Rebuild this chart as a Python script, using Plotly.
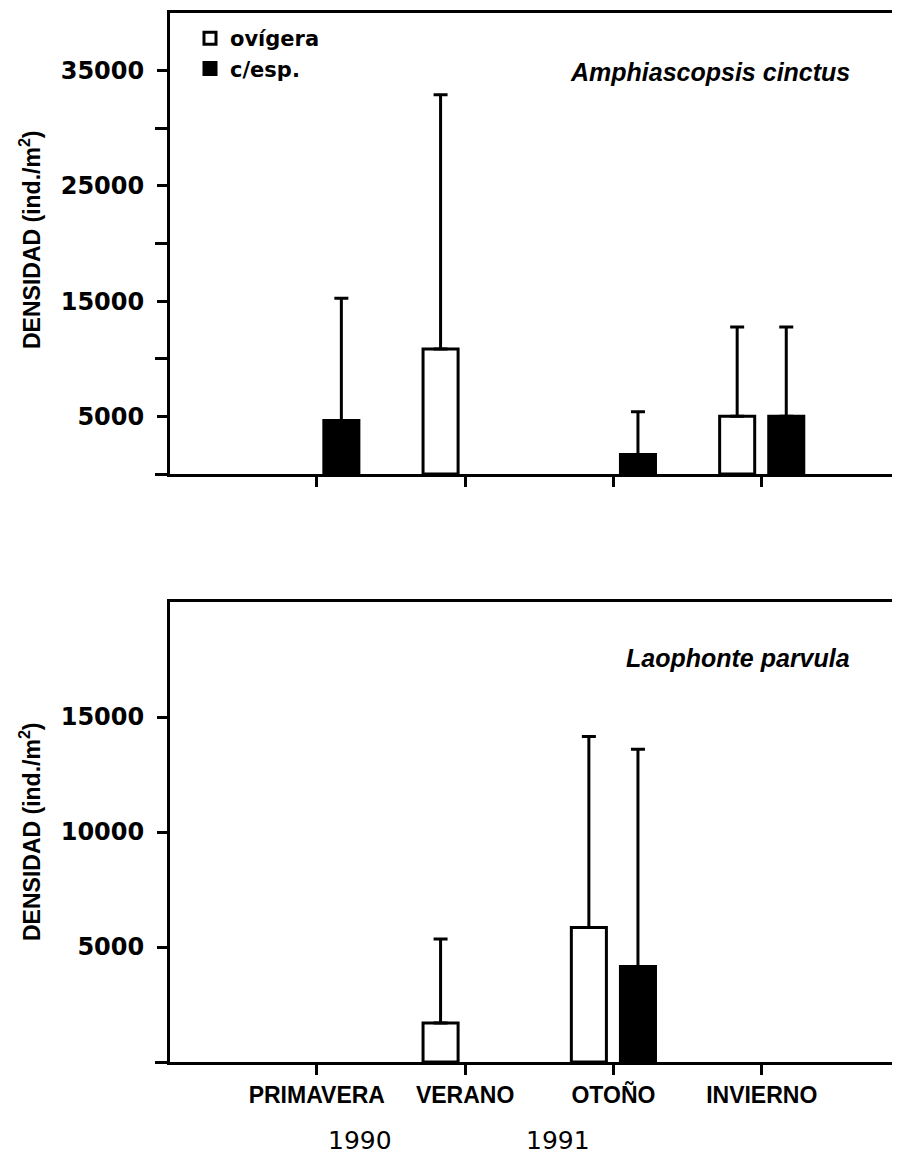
import plotly.graph_objects as go

seasons = ["PRIMAVERA", "VERANO", "OTOÑO", "INVIERNO"]
years = ["1990", "1991"]

# Amphiascopsis cinctus
ac_ovigera = [None, 10850, None, 5000]
ac_ovigera_err = [None, 22050, None, 7750]
ac_cesp = [4650, None, 1700, 5000]
ac_cesp_err = [10600, None, 3700, 7750]

# Laophonte parvula
lp_ovigera = [None, 1700, 5850, None]
lp_ovigera_err = [None, 3650, 8300, None]
lp_cesp = [None, None, 4150, None]
lp_cesp_err = [None, None, 9450, None]

top_ticks = [5000, 15000, 25000, 35000]
top_minor = [0, 10000, 20000, 30000]
bot_ticks = [5000, 10000, 15000]
bot_minor = [0]

W, H = 898, 1159
x_pos = list(range(len(seasons)))
R = 892  # right end of plot area in px

def err(arr):
    return dict(type="data", symmetric=False, array=arr,
                arrayminus=[0 if v is not None else None for v in arr],
                color="black", thickness=3, width=7)

fig = go.Figure()
common_line = dict(color="black", width=3)

fig.add_trace(go.Bar(x=x_pos, y=ac_ovigera, name="ovígera", error_y=err(ac_ovigera_err),
                     marker=dict(color="white", line=common_line), xaxis="x", yaxis="y",
                     offsetgroup="o", legendgroup="o"))
fig.add_trace(go.Bar(x=x_pos, y=ac_cesp, name="c/esp.", error_y=err(ac_cesp_err),
                     marker=dict(color="black", line=common_line), xaxis="x", yaxis="y",
                     offsetgroup="c", legendgroup="c"))
fig.add_trace(go.Bar(x=x_pos, y=lp_ovigera, name="ovígera", error_y=err(lp_ovigera_err),
                     marker=dict(color="white", line=common_line), xaxis="x2", yaxis="y2",
                     offsetgroup="o", legendgroup="o", showlegend=False))
fig.add_trace(go.Bar(x=x_pos, y=lp_cesp, name="c/esp.", error_y=err(lp_cesp_err),
                     marker=dict(color="black", line=common_line), xaxis="x2", yaxis="y2",
                     offsetgroup="c", legendgroup="c", showlegend=False))

xdom = [170 / W, R / W]
top_dom = [1 - 474 / H, 1 - 13 / H]
bot_dom = [1 - 1062 / H, 1 - 602 / H]
xrange = [-0.99, -0.99 + (R - 170) / 148.3]

tickfont = dict(family="DejaVu Sans", size=24, color="black", weight="bold")
catfont = dict(family="Liberation Sans", size=23, color="black", weight="bold")

axis_common = dict(showline=True, linecolor="black", linewidth=3, showgrid=False,
                   zeroline=False, ticks="outside", ticklen=10, tickwidth=3,
                   tickcolor="black")
minor_common = dict(ticks="outside", ticklen=12, tickwidth=3, tickcolor="black",
                    showgrid=False)

fig.update_layout(
    width=W, height=H,
    margin=dict(l=0, r=0, t=0, b=0),
    paper_bgcolor="white", plot_bgcolor="white",
    barmode="group", bargap=0.338, bargroupgap=0.286,
    showlegend=True,
    legend=dict(x=190 / W, y=1 - 18 / H, xanchor="left", yanchor="top",
                font=dict(family="DejaVu Sans", size=21, color="black", weight="bold"),
                bgcolor="rgba(0,0,0,0)", tracegroupgap=0),
    xaxis=dict(domain=xdom, range=xrange, anchor="y", tickvals=x_pos,
               showticklabels=False, mirror=True, **axis_common),
    yaxis=dict(domain=top_dom, range=[0, 40000], anchor="x", tickvals=top_ticks,
               ticktext=[str(v) for v in top_ticks], tickfont=tickfont,
               ticklabelstandoff=8, minor=dict(tickvals=top_minor, **minor_common),
               **axis_common),
    xaxis2=dict(domain=xdom, range=xrange, anchor="y2", tickvals=x_pos,
                ticktext=seasons, tickfont=catfont, ticklabelstandoff=0,
                mirror=True, **axis_common),
    yaxis2=dict(domain=bot_dom, range=[0, 20000], anchor="x2", tickvals=bot_ticks,
                ticktext=[str(v) for v in bot_ticks], tickfont=tickfont,
                ticklabelstandoff=8, minor=dict(tickvals=bot_minor, **minor_common),
                **axis_common),
)

title_font = dict(family="Liberation Sans", size=23, color="black", weight="bold")
species_font = dict(family="Liberation Sans", size=25, color="black", weight="bold",
                    style="italic")

annotations = [
    dict(text="DENSIDAD (ind./m<sup>2</sup>)", x=30 / W, y=1 - 240 / H, xref="paper",
         yref="paper", textangle=-90, showarrow=False, font=title_font,
         xanchor="center", yanchor="middle"),
    dict(text="DENSIDAD (ind./m<sup>2</sup>)", x=30 / W, y=1 - 832 / H, xref="paper",
         yref="paper", textangle=-90, showarrow=False, font=title_font,
         xanchor="center", yanchor="middle"),
    dict(text="Amphiascopsis cinctus", x=852 / W, y=1 - 72 / H, xref="paper",
         yref="paper", showarrow=False, font=species_font, xanchor="right",
         yanchor="middle"),
    dict(text="Laophonte parvula", x=852 / W, y=1 - 658 / H, xref="paper",
         yref="paper", showarrow=False, font=species_font, xanchor="right",
         yanchor="middle"),
]
year_x = [360, 558]
for yr, xp in zip(years, year_x):
    annotations.append(dict(text=yr, x=xp / W, y=1 - 1140 / H, xref="paper", yref="paper",
                            showarrow=False,
                            font=dict(family="DejaVu Sans", size=25, color="black"),
                            xanchor="center", yanchor="middle"))
fig.update_layout(annotations=annotations)

fig.write_html("out.html", config={"displayModeBar": False},
               post_script="document.body.style.margin='0';"
                           "document.body.style.overflow='hidden';")
